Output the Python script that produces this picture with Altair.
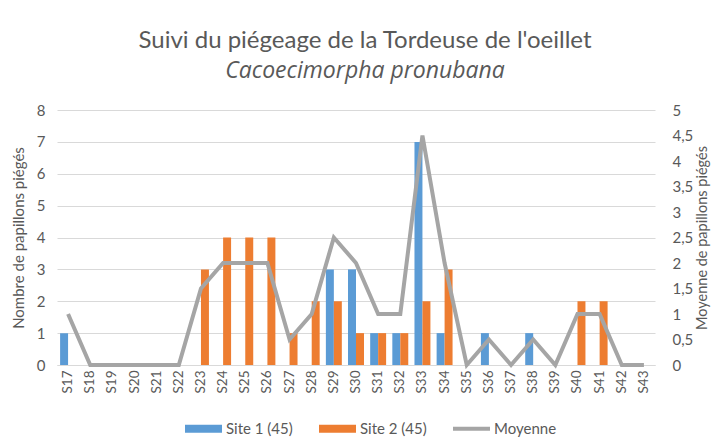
import altair as alt
import pandas as pd

weeks = ["S17", "S18", "S19", "S20", "S21", "S22", "S23", "S24", "S25", "S26",
         "S27", "S28", "S29", "S30", "S31", "S32", "S33", "S34", "S35", "S36",
         "S37", "S38", "S39", "S40", "S41", "S42", "S43"]
site1 = [1, 0, 0, 0, 0, 0, 0, 0, 0, 0, 0, 0, 3, 3, 1, 1, 7, 1, 0, 1, 0, 1, 0, 0, 0, 0, 0]
site2 = [0, 0, 0, 0, 0, 0, 3, 4, 4, 4, 1, 2, 2, 1, 1, 1, 2, 3, 0, 0, 0, 0, 0, 2, 2, 0, 0]
moyenne = [1, 0, 0, 0, 0, 0, 1.5, 2, 2, 2, 0.5, 1, 2.5, 2, 1, 1, 4.5, 2, 0, 0.5, 0, 0.5, 0, 1, 1, 0, 0]
left_ticks = [0, 1, 2, 3, 4, 5, 6, 7, 8]
right_ticks = [0, 0.5, 1, 1.5, 2, 2.5, 3, 3.5, 4, 4.5, 5]
series_names = ["Site 1 (45)", "Site 2 (45)", "Moyenne"]
colors = ["#5B9BD5", "#ED7D31", "#A5A5A5"]
legend_paths = [
    "M-1,-0.216L1,-0.216L1,0.216L-1,0.216Z",
    "M-1,-0.216L1,-0.216L1,0.216L-1,0.216Z",
    "M-1,-0.11L1,-0.11L1,0.11L-1,0.11Z",
]

FONT = "Lato"
TXT = "#595959"

bars_df = pd.DataFrame({
    "week": weeks * 2,
    "series": [series_names[0]] * len(weeks) + [series_names[1]] * len(weeks),
    "value": site1 + site2,
})
line_df = pd.DataFrame({"week": weeks, "moyenne": moyenne})
legend_df = pd.DataFrame({"series": series_names})

x_enc = alt.X(
    "week:N", sort=weeks,
    scale=alt.Scale(paddingInner=0.28, paddingOuter=0.14),
    axis=alt.Axis(title=None, labelAngle=-90, labelFontSize=13.5, labelPadding=5,
                  domain=True, domainColor="#D9D9D9", ticks=False, grid=False,
                  labelBaseline="middle", labelAlign="right"),
)

leg = alt.Legend(title=None, orient="none", legendX=128, legendY=300,
                 direction="horizontal", labelFontSize=15, labelColor=TXT,
                 labelFont=FONT, labelOffset=4, columnPadding=26,
                 symbolSize=1369, symbolStrokeWidth=0)

color_enc = alt.Color("series:N", scale=alt.Scale(domain=series_names, range=colors),
                      legend=leg)

bars = alt.Chart(bars_df).mark_bar().encode(
    x=x_enc,
    xOffset=alt.XOffset("series:N", scale=alt.Scale(domain=series_names[:2], paddingInner=0, paddingOuter=0)),
    y=alt.Y("value:Q", scale=alt.Scale(domain=[0, 8], nice=False),
            axis=alt.Axis(title="Nombre de papillons piégés", values=left_ticks,
                          labelPadding=12, titlePadding=10, grid=True)),
    color=color_enc,
)

line = alt.Chart(line_df).mark_line(color="#A5A5A5", strokeWidth=4).encode(
    x=x_enc,
    y=alt.Y("moyenne:Q", scale=alt.Scale(domain=[0, 5], nice=False),
            axis=alt.Axis(title="Moyenne de papillons piégés", orient="right",
                          values=right_ticks,
                          labelExpr="replace(format(datum.value, '.1~f'), '.', ',')",
                          labelPadding=17, titlePadding=3, titleAngle=-90,
                          titleFontSize=14.5, titleBaseline="top", grid=False)),
)

legend_layer = alt.Chart(legend_df).transform_filter("false").mark_point(filled=True, opacity=1).encode(
    color=color_enc,
    shape=alt.Shape("series:N", scale=alt.Scale(domain=series_names, range=legend_paths), legend=leg),
    size=alt.value(1369),
)

chart = alt.layer(bars, line, legend_layer).resolve_scale(y="independent").properties(
    width=598, height=255,
    background="white",
    autosize=alt.AutoSizeParams(type="none"),
    padding={"left": 49, "top": 102, "right": 58, "bottom": 72},
    title=alt.TitleParams(
        text="Suivi du piégeage de la Tordeuse de l'oeillet",
        subtitle="Cacoecimorpha pronubana",
        font=FONT, subtitleFont="Open Sans", fontSize=24, subtitleFontSize=23,
        fontWeight="normal", subtitleFontStyle="italic",
        color=TXT, subtitleColor=TXT, anchor="middle", offset=20, dx=9,
        subtitlePadding=7,
    ),
).configure_view(stroke=None).configure_axis(
    labelFont=FONT, titleFont=FONT, labelColor=TXT, titleColor=TXT,
    labelFontSize=15, titleFontSize=15, titleFontWeight="normal",
    domain=False, ticks=False, gridColor="#D9D9D9", gridWidth=1,
)

chart.save("out.html", embed_options={"renderer": "svg", "actions": False})
